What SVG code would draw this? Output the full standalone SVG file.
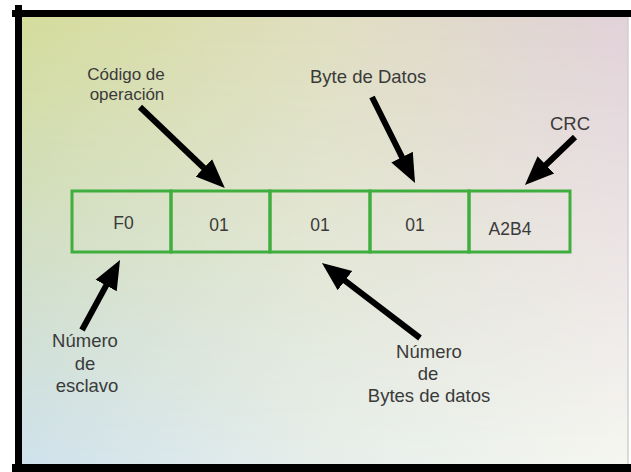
<svg xmlns="http://www.w3.org/2000/svg" width="631" height="472" viewBox="0 0 631 472">
  <style>
    .lbl { font-family: "Liberation Sans", Arial, sans-serif; font-size: 18.5px; fill: #3a3a3a; }
    .lbl2 { font-family: "Liberation Sans", Arial, sans-serif; font-size: 17px; fill: #3a3a3a; }
    .val { font-family: "Liberation Sans", Arial, sans-serif; font-size: 17.5px; fill: #3a3a3a; text-anchor: middle; }
    .cell { fill: none; stroke: #3fae3f; stroke-width: 3; }
    .arrow { stroke: #000; stroke-width: 6; fill: none; marker-end: url(#head); }
    .frame { fill: #000; }
  </style>
  <defs>
    <linearGradient id="topG" x1="0" y1="0" x2="1" y2="0">
      <stop offset="0" stop-color="#d5dd9c"/>
      <stop offset="0.5" stop-color="#e0dfc0"/>
      <stop offset="1" stop-color="#e2d2da"/>
    </linearGradient>
    <linearGradient id="botG" x1="0" y1="0" x2="1" y2="0">
      <stop offset="0" stop-color="#cfe1ec"/>
      <stop offset="0.5" stop-color="#e6eeea"/>
      <stop offset="1" stop-color="#f5f6f0"/>
    </linearGradient>
    <linearGradient id="fadeV" x1="0" y1="0" x2="0" y2="1">
      <stop offset="0" stop-color="#fff" stop-opacity="0"/>
      <stop offset="1" stop-color="#fff" stop-opacity="1"/>
    </linearGradient>
    <mask id="vmask" maskUnits="userSpaceOnUse" x="0" y="0" width="631" height="472">
      <rect x="22" y="17" width="606" height="447" fill="url(#fadeV)"/>
    </mask>
    <marker id="head" markerUnits="userSpaceOnUse" viewBox="-3 -13 31 26" refX="0" refY="0" markerWidth="31" markerHeight="26" orient="auto">
      <path d="M-3,-12 L26,0 L-3,12 z" fill="#000"/>
    </marker>
  </defs>

  <rect x="0" y="0" width="631" height="472" fill="#ffffff"/>
  <g id="background">
    <rect x="22" y="17" width="606" height="447" fill="url(#topG)"/>
    <rect x="22" y="17" width="606" height="447" fill="url(#botG)" mask="url(#vmask)"/>
    <line x1="628" y1="17" x2="628" y2="464" stroke="#cfcfcf" stroke-width="1.5"/>
  </g>
  <g id="frame">
    <rect class="frame" x="12" y="10" width="619" height="7"/>
    <rect class="frame" x="15" y="5" width="7" height="467"/>
    <rect class="frame" x="12" y="464" width="619" height="8"/>
  </g>

  <g id="frame-cells">
    <g id="cell-f0">
      <rect class="cell" x="72" y="191" width="99" height="61"/>
      <text class="val" x="123.5" y="229">F0</text>
    </g>
    <g id="cell-op">
      <rect class="cell" x="171" y="191" width="99" height="61"/>
      <text class="val" x="219" y="231">01</text>
    </g>
    <g id="cell-nbytes">
      <rect class="cell" x="270" y="191" width="100" height="61"/>
      <text class="val" x="320" y="231">01</text>
    </g>
    <g id="cell-data">
      <rect class="cell" x="370" y="191" width="99" height="61"/>
      <text class="val" x="415" y="231">01</text>
    </g>
    <g id="cell-crc">
      <rect class="cell" x="469" y="191" width="101" height="61"/>
      <text class="val" x="510" y="235">A2B4</text>
    </g>
  </g>

  <g id="label-codigo">
    <text class="lbl2" x="126" y="80" text-anchor="middle">Código de</text>
    <text class="lbl2" x="127" y="99.5" text-anchor="middle">operación</text>
  </g>
  <g id="label-byte">
    <text class="lbl" x="310" y="83">Byte de Datos</text>
  </g>
  <g id="label-crc">
    <text class="lbl" x="550" y="130">CRC</text>
  </g>
  <g id="label-esclavo">
    <text class="lbl" x="85" y="347" text-anchor="middle">Número</text>
    <text class="lbl" x="85" y="370" text-anchor="middle">de</text>
    <text class="lbl" x="87" y="392" text-anchor="middle">esclavo</text>
  </g>
  <g id="label-nbytes">
    <text class="lbl" x="429" y="358" text-anchor="middle">Número</text>
    <text class="lbl" x="428" y="380" text-anchor="middle">de</text>
    <text class="lbl" x="429" y="402" text-anchor="middle">Bytes de datos</text>
  </g>

  <g id="connectors">
    <line class="arrow" x1="140" y1="107" x2="206" y2="170"/>
    <line class="arrow" x1="372" y1="97" x2="403.4" y2="159.8"/>
    <line class="arrow" x1="575" y1="137" x2="543.7" y2="167"/>
    <line class="arrow" x1="82" y1="330" x2="107.6" y2="282.9"/>
    <line class="arrow" x1="420" y1="338" x2="342.6" y2="278.8"/>
  </g>
</svg>
